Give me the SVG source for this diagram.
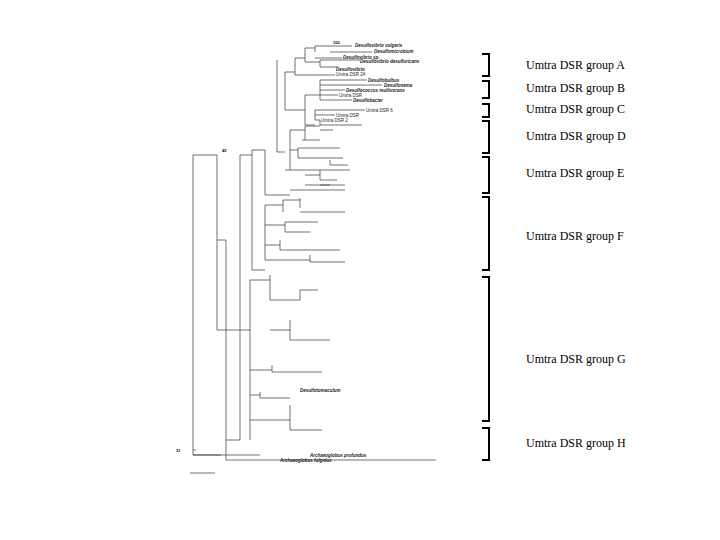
<svg xmlns="http://www.w3.org/2000/svg" width="720" height="540" viewBox="0 0 720 540">
<style>
.l{font-family:"Liberation Sans",sans-serif;font-size:4.5px;fill:#222}
.s{font-family:"Liberation Sans",sans-serif;font-size:4.5px;font-style:italic;font-weight:bold;fill:#222}
.b{font-family:"Liberation Sans",sans-serif;font-size:4px;font-weight:bold;fill:#000}
.g{font-family:"Liberation Serif",serif;font-size:12px;fill:#000}
.br{fill:none;stroke:#000;stroke-width:2}
#tree path{fill:none;stroke:#333;stroke-width:0.7}
</style>
<rect width="720" height="540" fill="#fff"/>
<g id="tree">
<path d="M193 450V455H221M193 455H260M193 450V155H217M193 450H196"/>
<path d="M217 155V330M217 330H240M217 240H226M226 240V460M226 460H436M226 440H240"/>
<path d="M240 155V440M240 155H252M252 150V270M252 150H265M265 150V195M265 195H277M277 60V152M277 152H285"/>
<path d="M285 72V110M285 72H295M295 58V75M295 58H305M305 48V62M305 48H315M315 46V52M315 46H330M330 46H352M330 52H372M315 58H330M330 58H342M305 62H320M320 60V67M320 60H360M320 67H338M295 75H335"/>
<path d="M285 110H305M305 95V125M305 95H320M320 80V100M320 80H367M320 85H382M320 90H345M320 95H338M320 100H352"/>
<path d="M305 125H315M315 110V120M315 110H365M315 115H335M315 120H320"/>
<path d="M277 195H290M290 130V170M290 130H305M305 126V140M305 126H320M320 120V125H362M320 130H333M320 140H302M290 150H298M298 148V158M298 148H340M298 158H343"/>
<path d="M285 170H330M330 160V165H348M330 170H350M305 175H320M320 170V180M320 180H337M320 185H345M305 185H330M290 190H330M330 190H345"/>
<path d="M252 270H265M265 205V260M265 205H283M283 200V212M283 200H300M300 198V208M300 212H345M265 225H285M285 222V232M285 222H318M285 232H310M265 245H280M280 240V250H340M265 260H310M310 255V262H345"/>
<path d="M240 330H250M250 280V440M250 280H270M270 275V300M270 300H300M300 290V300M300 290H318M270 330H290M290 320V340H330M250 370H272M272 365V372H322M250 395H260M260 392V398H290M250 420H290M290 405V430H322"/>
</g>
<g id="labels">
<text class="s" x="355" y="47">Desulfovibrio vulgaris</text>
<text class="s" x="374" y="53">Desulfomicrobium</text>
<text class="s" x="343" y="59">Desulfovibrio sp.</text>
<text class="s" x="360" y="63">Desulfovibrio desulfuricans</text>
<text class="s" x="336" y="71">Desulfovibrio</text>
<text class="l" x="336" y="76">Umtra DSR 24</text>
<text class="s" x="368" y="82">Desulfobulbus</text>
<text class="s" x="384" y="87">Desulfonema</text>
<text class="s" x="346" y="92">Desulfococcus multivorans</text>
<text class="l" x="339" y="97">Umtra DSR</text>
<text class="s" x="353" y="102">Desulfobacter</text>
<text class="l" x="366" y="112">Umtra DSR 6</text>
<text class="l" x="336" y="117">Umtra DSR</text>
<text class="l" x="321" y="122">Umtra DSR 2</text>
<text class="s" x="300" y="392">Desulfotomaculum</text>
<text class="s" x="310" y="457">Archaeoglobus profundus</text>
<text class="s" x="280" y="462">Archaeoglobus fulgidus</text>
<text class="b" x="333" y="44">100</text>
<text class="b" x="222" y="152">45</text>
<text class="b" x="176" y="452">31</text>
<path d="M190 473H215" stroke="#333" stroke-width="0.7"/>
</g>
<g id="brackets">
<path class="br" d="M482 54H489V76H482M482 81H489V98H482M482 104H489V117H482M482 121H489V153H482M482 157H489V193H482M482 197H489V270H482M482 277H489V421H482M482 428H489V460H482"/>
<text class="g" x="526" y="69">Umtra DSR group A</text>
<text class="g" x="526" y="92">Umtra DSR group B</text>
<text class="g" x="526" y="113">Umtra DSR group C</text>
<text class="g" x="526" y="140">Umtra DSR group D</text>
<text class="g" x="526" y="177">Umtra DSR group E</text>
<text class="g" x="526" y="240">Umtra DSR group F</text>
<text class="g" x="526" y="363">Umtra DSR group G</text>
<text class="g" x="526" y="447">Umtra DSR group H</text>
</g>
</svg>
